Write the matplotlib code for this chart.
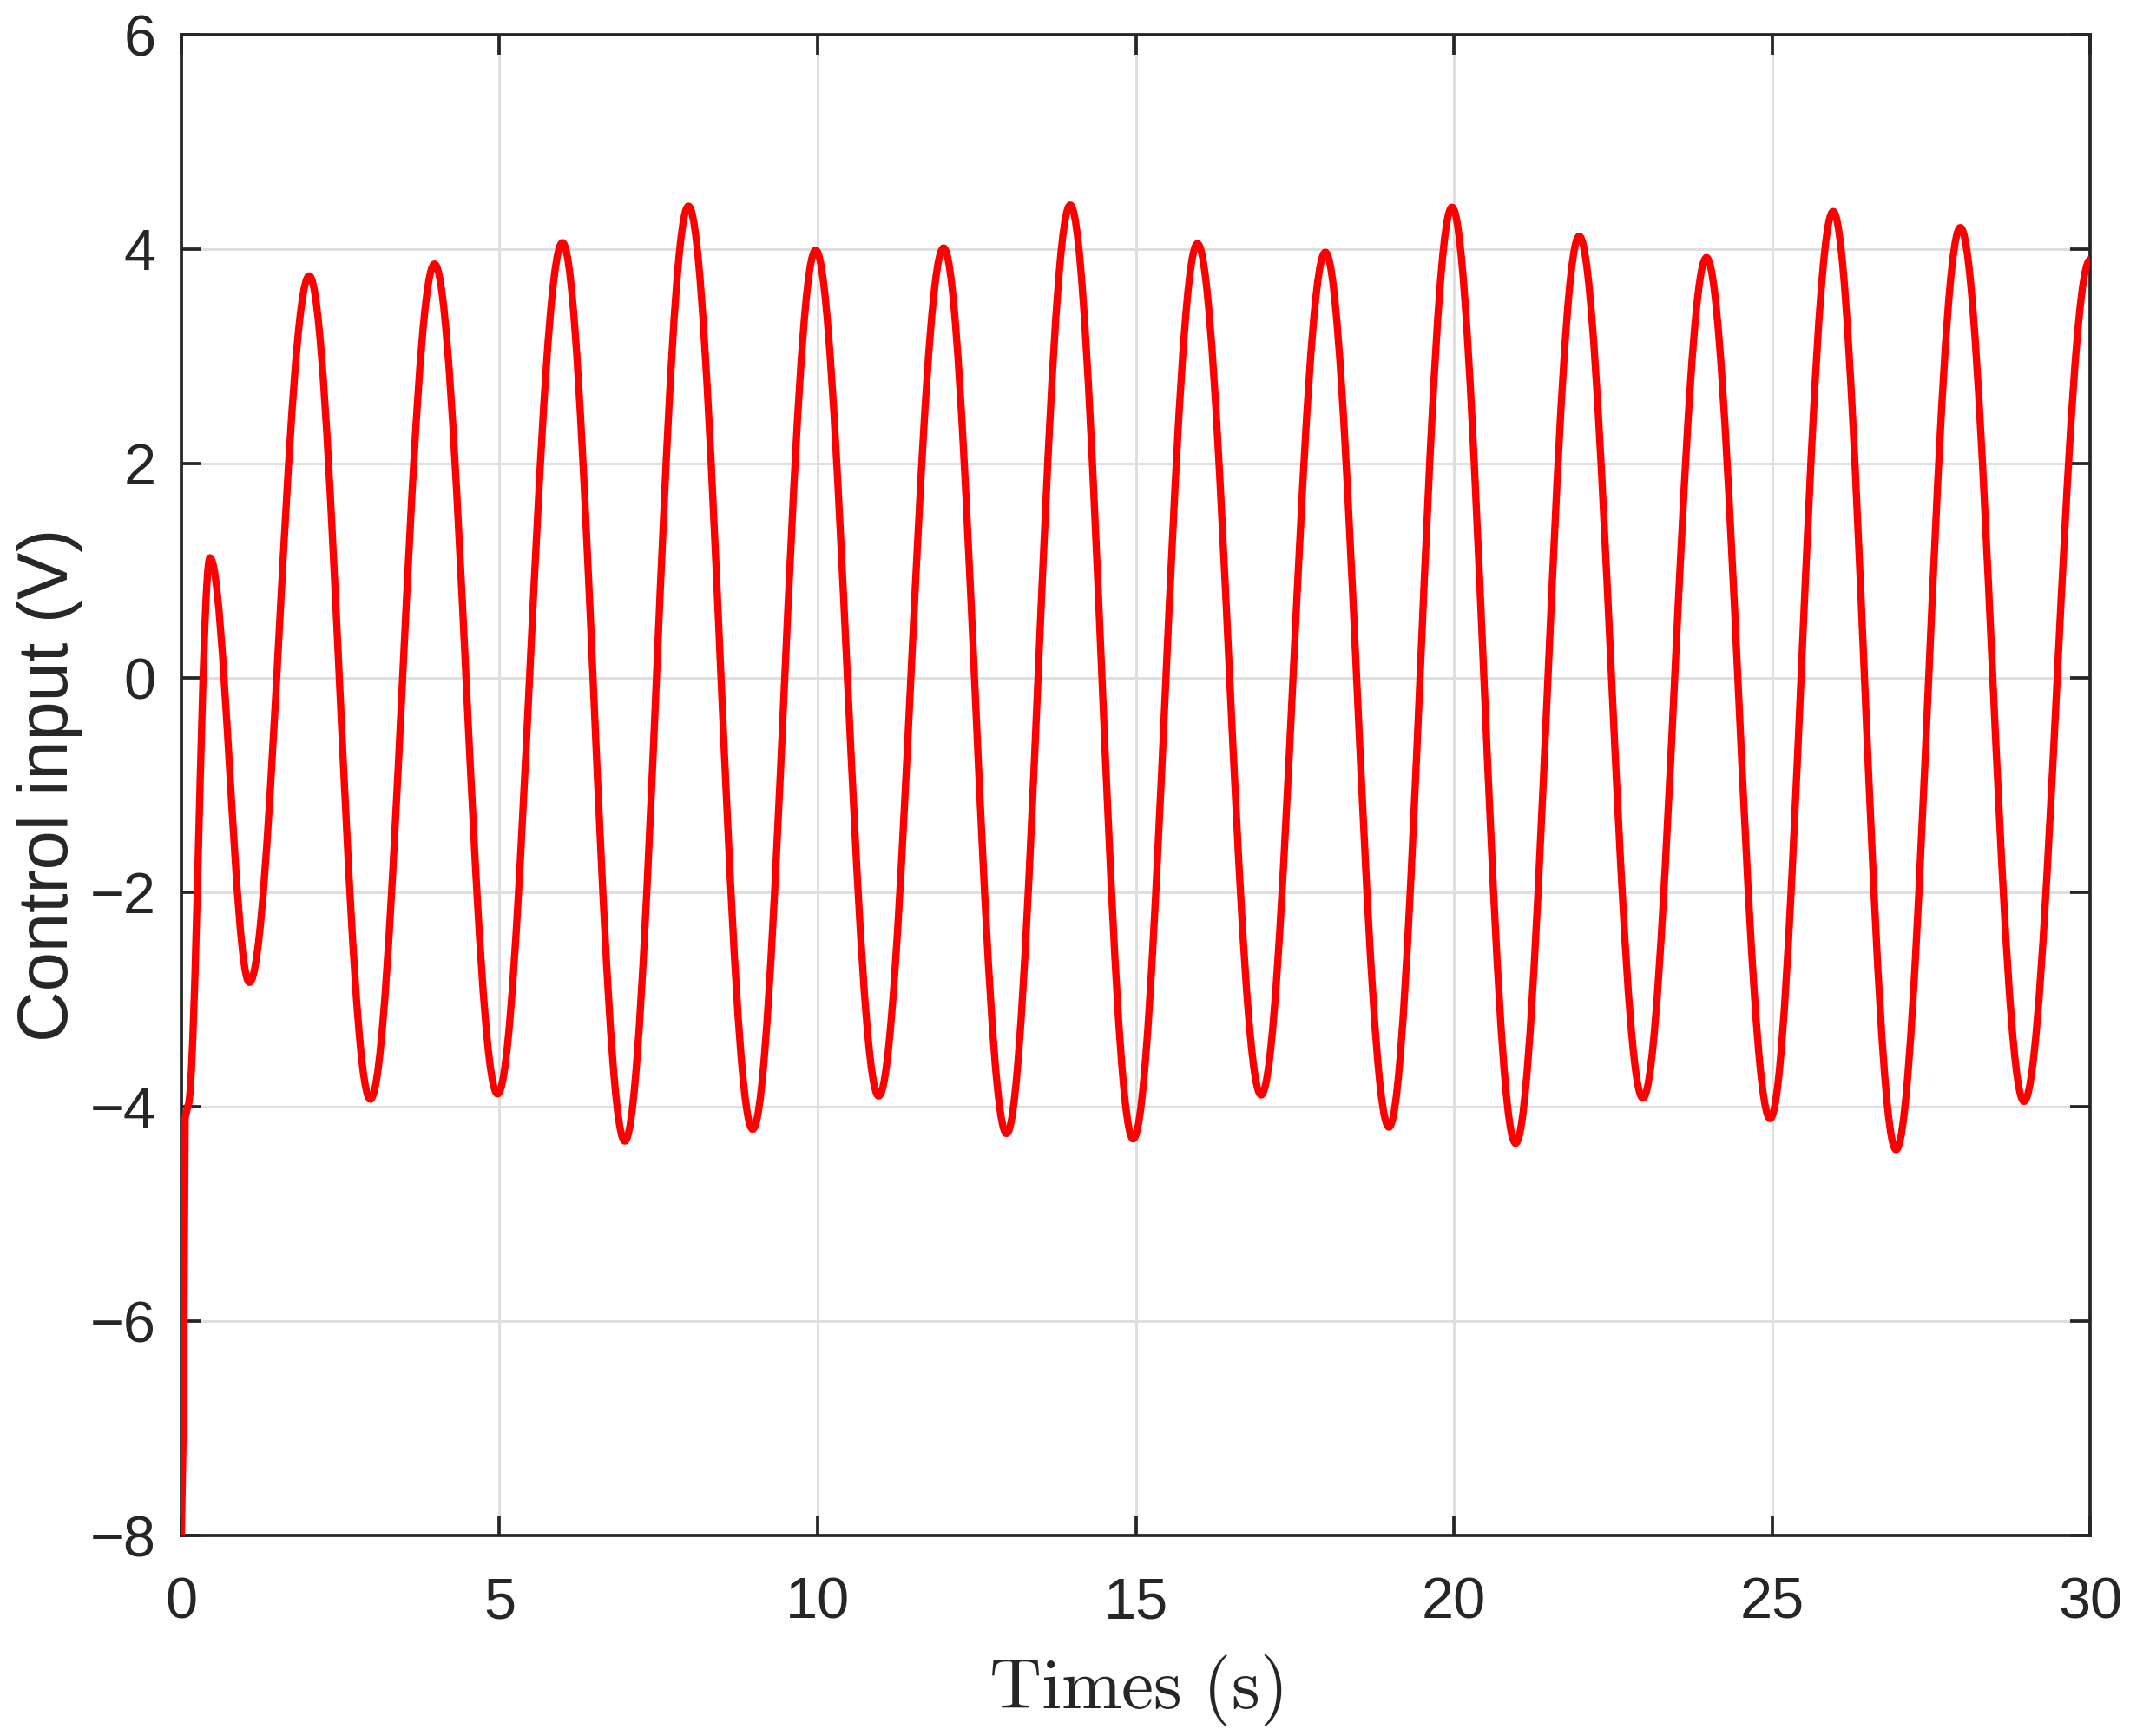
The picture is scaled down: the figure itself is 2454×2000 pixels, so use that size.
import matplotlib
matplotlib.use("Agg")
import matplotlib.pyplot as plt
from matplotlib.path import Path
from matplotlib.patches import PathPatch

plt.rcParams['font.family'] = ['Liberation Sans', 'DejaVu Sans']
plt.rcParams['mathtext.fontset'] = 'cm'

# start-up transient (straight pieces)
start_t = [0.0, 0.03, 0.06, 0.10]
start_u = [-8.0, -7.0, -4.1, -4.0]

# turning points of the oscillation (peak / trough times and values)
ext_t = [0.45, 1.07, 2.01, 2.97, 3.98, 4.97, 5.99, 6.97, 7.97, 8.98,
         9.97, 10.96, 11.98, 12.97, 13.97, 14.96, 15.97, 16.97, 17.98, 18.98,
         19.97, 20.97, 21.97, 22.97, 23.97, 24.97, 25.96, 26.95, 27.96, 28.96,
         30.0]
ext_u = [1.12, -2.84, 3.75, -3.93, 3.86, -3.88, 4.06, -4.32, 4.40, -4.21,
         3.99, -3.90, 4.01, -4.25, 4.41, -4.30, 4.05, -3.89, 3.97, -4.19,
         4.39, -4.34, 4.12, -3.92, 3.92, -4.11, 4.35, -4.40, 4.20, -3.95,
         3.90]

xticks = [0, 5, 10, 15, 20, 25, 30]
yticks = [-8, -6, -4, -2, 0, 2, 4, 6]

# build the path: lines for the transient, cubic curves between turning points
verts = [(start_t[0], start_u[0])]
codes = [Path.MOVETO]
for t, u in zip(start_t[1:], start_u[1:]):
    verts.append((t, u))
    codes.append(Path.LINETO)
k = 0.363  # control point spacing, close to a half sine wave
t0, u0 = start_t[-1], start_u[-1]
for t1, u1 in zip(ext_t, ext_u):
    dt = t1 - t0
    verts += [(t0 + k * dt, u0), (t1 - k * dt, u1), (t1, u1)]
    codes += [Path.CURVE4] * 3
    t0, u0 = t1, u1

fig = plt.figure(figsize=(8.1833, 6.6667), dpi=300)
ax = fig.add_axes([0.0851, 0.1155, 0.8958, 0.8645])

ax.add_patch(PathPatch(Path(verts, codes), fill=False, edgecolor='#ff0000',
                       linewidth=2.0, zorder=3))

ax.set_xlim(0, 30)
ax.set_ylim(-8, 6)
ax.set_xticks(xticks)
ax.set_yticks(yticks)
ax.grid(True, color='#dedede', linewidth=0.7)
ax.set_axisbelow(True)
for s in ax.spines.values():
    s.set_color('#262626')
    s.set_linewidth(0.9)
ax.tick_params(direction='in', length=5.5, width=0.9, colors='#262626',
               labelsize=16, top=True, right=True)
ax.tick_params(axis='x', pad=11.5)
ax.tick_params(axis='y', pad=7)

ax.set_xlabel(r'$\mathrm{Times\ (s)}$', fontsize=20, color='#262626', labelpad=6)
ax.set_ylabel('Control input (V)', fontsize=19.5, color='#262626', labelpad=2)

fig.savefig('out.png', dpi=300)
